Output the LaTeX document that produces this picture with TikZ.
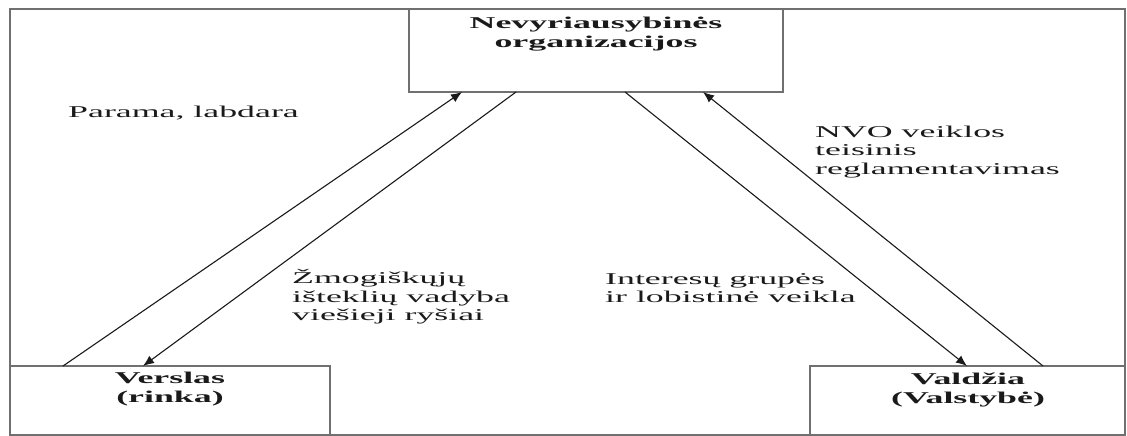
\documentclass[tikz,border=0pt]{standalone}
\usepackage{fontspec}
\setmainfont{Liberation Serif}[FakeStretch=2.17]
\usetikzlibrary{arrows.meta}
\definecolor{framegray}{HTML}{707070}
\definecolor{inkblack}{HTML}{1A1A1A}
\tikzset{
  boxshape/.style={draw=framegray, line width=1.6pt, rectangle, inner sep=0pt, outer sep=0pt, anchor=north west},
  boxlabel/.style={font=\fontsize{16.5}{18.5}\selectfont\bfseries, text=inkblack, align=center, inner sep=0pt},
  freelabel/.style={font=\fontsize{16.5}{18.5}\selectfont, text=inkblack, align=left, inner sep=0pt, anchor=west},
  flow/.style={draw=inkblack, line width=1.1pt, -{Latex[length=11pt,width=9pt]}}
}
\begin{document}
\begin{tikzpicture}[x=1pt,y=-1pt]
\useasboundingbox (0,0) rectangle (1127,436);
\fill[white] (0,0) rectangle (1127,436);
% outer frame
\node[boxshape, minimum width=1115pt, minimum height=426pt] (frame) at (10,9) {};
% boxes
\node[boxshape, fill=white, minimum width=374pt, minimum height=83pt] (ngo) at (409,9) {};
\node[boxshape, fill=white, minimum width=320pt, minimum height=69pt] (verslas) at (10,366) {};
\node[boxshape, fill=white, minimum width=315pt, minimum height=69pt] (valdzia) at (810,366) {};
% box texts
\node[boxlabel] (ngotext) at (596,34) {Nevyriausybinės\\organizacijos};
\node[boxlabel] (verslastext) at (170,389) {Verslas\\(rinka)};
\node[boxlabel] (valdziatext) at (968,390) {Valdžia\\(Valstybė)};
% arrows
\draw[flow] ([xshift=53pt]verslas.north west) -- ([xshift=53pt]ngo.south west);
\draw[flow] ([xshift=107pt]ngo.south west) -- ([xshift=133pt]verslas.north west);
\draw[flow] ([xshift=216pt]ngo.south west) -- ([xshift=157pt]valdzia.north west);
\draw[flow] ([xshift=233pt]valdzia.north west) -- ([xshift=294pt]ngo.south west);
% labels
\node[freelabel] (parama) at (68,113) {Parama, labdara};
\node[freelabel] (zmog) at (292,297) {Žmogiškųjų\\išteklių vadyba\\viešieji ryšiai};
\node[freelabel] (interes) at (605,288) {Interesų grupės\\ir lobistinė veikla};
\node[freelabel] (nvo) at (815,152) {NVO veiklos\\teisinis\\reglamentavimas};
\end{tikzpicture}
\end{document}
